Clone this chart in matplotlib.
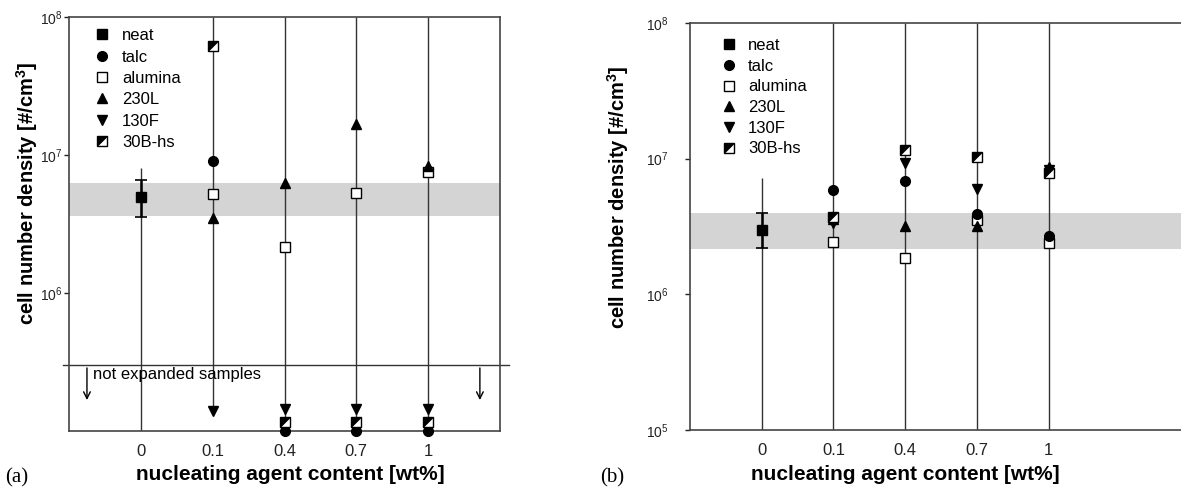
import matplotlib
matplotlib.use("Agg")
import matplotlib.pyplot as plt
from matplotlib.lines import Line2D
import numpy as np

plt.rcParams['font.family'] = ['Liberation Sans', 'DejaVu Sans']
plt.rcParams['mathtext.default'] = 'regular'

nan = np.nan
categories = ['0', '0.1', '0.4', '0.7', '1']
series = ['neat', 'talc', 'alumina', '230L', '130F', '30B-hs']

# panel (a)
a_vals = {
    'neat':    [5.0e6, nan, nan, nan, nan],
    'alumina': [nan, 5.2e6, 2.15e6, 5.3e6, 7.5e6],
    '230L':    [nan, 3.5e6, 6.3e6, 1.68e7, 8.3e6],
    '130F':    [nan, 1.4e5, 1.45e5, 1.45e5, 1.45e5],
    'talc':    [nan, 9.0e6, 1.0e5, 1.0e5, 1.0e5],
    '30B-hs':  [nan, 6.2e7, 1.16e5, 1.16e5, 1.16e5],
}
a_neat_err = [3.55e6, 6.6e6]
a_band = [3.6e6, 6.3e6]
a_span_lo = [1e5, 1.4e5, 1e5, 1e5, 1e5]
a_span_hi = [8.0e6, 1e8, 1e8, 1e8, 1e8]
a_limit = 3.0e5
a_arrow_x = [-0.75, 4.72]
a_arrow_end = 1.6e5

# panel (b)
b_vals = {
    'neat':    [3.0e6, nan, nan, nan, nan],
    'alumina': [nan, 2.45e6, 1.85e6, 3.55e6, 2.4e6],
    '230L':    [nan, 3.6e6, 3.2e6, 3.2e6, 8.7e6],
    '130F':    [nan, 3.35e6, 9.3e6, 6.0e6, 8.3e6],
    'talc':    [nan, 5.9e6, 6.9e6, 3.9e6, 2.7e6],
    '30B-hs':  [nan, 3.7e6, 1.15e7, 1.03e7, 7.9e6],
}
b_neat_err = [2.2e6, 3.95e6]
b_band = [2.15e6, 3.95e6]
b_span_lo = [1e5, 1e5, 1e5, 1e5, 1e5]
b_span_hi = [7.2e6, 1e8, 1e8, 1e8, 1e8]

LC = '#333333'
MS = 7

styles = {
    'neat': dict(marker='s', mfc='k', mec='k'),
    'talc': dict(marker='o', mfc='k', mec='k'),
    'alumina': dict(marker='s', mfc='white', mec='k', mew=1.0),
    '230L': dict(marker='^', mfc='k', mec='k'),
    '130F': dict(marker='v', mfc='k', mec='k'),
}
half_tri = [(-1, -1), (-1, 1), (1, 1), (-1, -1)]


def handles_for(name):
    if name == '30B-hs':
        return (Line2D([], [], ls='none', marker='s', ms=MS, mfc='white', mec='k', mew=1.0),
                Line2D([], [], ls='none', marker=half_tri, ms=MS, mfc='k', mec='k', mew=0.5))
    return Line2D([], [], ls='none', ms=MS, **styles[name])


def draw_panel(ax, vals, neat_err, band, span_lo, span_hi):
    x = np.arange(len(categories))
    ax.set_yscale('log')
    ax.axhspan(band[0], band[1], color='#d4d4d4', lw=0, zorder=0)
    ax.vlines(x, span_lo, span_hi, color=LC, lw=1.0, zorder=1)
    ax.errorbar([0], [vals['neat'][0]],
                yerr=[[vals['neat'][0] - neat_err[0]], [neat_err[1] - vals['neat'][0]]],
                fmt='none', ecolor='k', elinewidth=1.8, capsize=4, capthick=1.2, zorder=2)
    for name in ['alumina', '230L', '130F', 'talc', '30B-hs', 'neat']:
        y = vals[name]
        if name == '30B-hs':
            ax.plot(x, y, ls='none', marker='s', ms=MS, mfc='white', mec='k', mew=1.0,
                    clip_on=False, zorder=4)
            ax.plot(x, y, ls='none', marker=half_tri, ms=MS, mfc='k', mec='k', mew=0.5,
                    clip_on=False, zorder=4)
        else:
            ax.plot(x, y, ls='none', ms=MS, clip_on=False, zorder=3, **styles[name])
    ax.set_xticks(x)
    ax.set_xticklabels(categories)
    ax.set_ylim(1e5, 1e8)
    ax.minorticks_off()
    ax.tick_params(axis='x', length=0, pad=9, labelsize=12, colors='#222222')
    ax.tick_params(axis='y', length=3.5, width=1, labelsize=10, colors='#222222', direction='out')
    for s in ax.spines.values():
        s.set_color('#444444')
        s.set_linewidth(1.2)
    ax.set_xlabel('nucleating agent content [wt%]', fontsize=15, fontweight='bold')
    ax.set_ylabel('cell number density [#/cm$^3$]', fontsize=14.5, fontweight='bold')


fig = plt.figure(figsize=(11.81, 4.9), dpi=100)
axa = fig.add_axes([69 / 1181, 1 - 431 / 490, 431 / 1181, 414 / 490])
axb = fig.add_axes([690 / 1181, 1 - 430 / 490, 495 / 1181, 407 / 490])

draw_panel(axa, a_vals, a_neat_err, a_band, a_span_lo, a_span_hi)
axa.set_xlim(-1, 5)
axa.set_yticks([1e6, 1e7, 1e8])
axa.set_yticklabels(['$10^6$', '$10^7$', '$10^8$'])
axa.tick_params(axis='y', pad=1.2)
axa.yaxis.set_label_coords(-0.067, 0.575)
axa.xaxis.set_label_coords(0.513, -0.083)

# not expanded samples threshold
axa.plot([-1.08, 5.12], [a_limit, a_limit], color=LC, lw=1.0, clip_on=False, zorder=2)
for xa in a_arrow_x:
    axa.annotate('', xy=(xa, a_arrow_end), xytext=(xa, a_limit),
                 arrowprops=dict(arrowstyle='->', color='k', lw=1.0, mutation_scale=12))
axa.text(-0.66, a_limit * 0.86, 'not expanded samples', fontsize=12, va='center', ha='left')

draw_panel(axb, b_vals, b_neat_err, b_band, b_span_lo, b_span_hi)
axb.set_xlim(-1, 5.9)
axb.set_yticks([1e5, 1e6, 1e7, 1e8])
axb.set_yticklabels(['$10^5$', '$10^6$', '$10^7$', '$10^8$'])
axb.tick_params(axis='y', pad=12)
axb.yaxis.set_label_coords(-0.12, 0.572)
axb.xaxis.set_label_coords(0.434, -0.086)

for ax, bb, lsp in [(axa, (0.058, 0.973), 0.38), (axb, (0.061, 0.963), 0.34)]:
    ax.legend([handles_for(n) for n in series], series, loc='upper left',
              bbox_to_anchor=bb, frameon=False, fontsize=12, borderpad=0,
              borderaxespad=0, handlelength=1.0, handletextpad=0.68,
              labelspacing=lsp)

fig.text(5 / 1181, 1 - 478 / 490, '(a)', family='Liberation Serif', fontsize=15, va='center')
fig.text(600 / 1181, 1 - 478 / 490, '(b)', family='Liberation Serif', fontsize=15, va='center')

fig.savefig('out.png', dpi=100)
